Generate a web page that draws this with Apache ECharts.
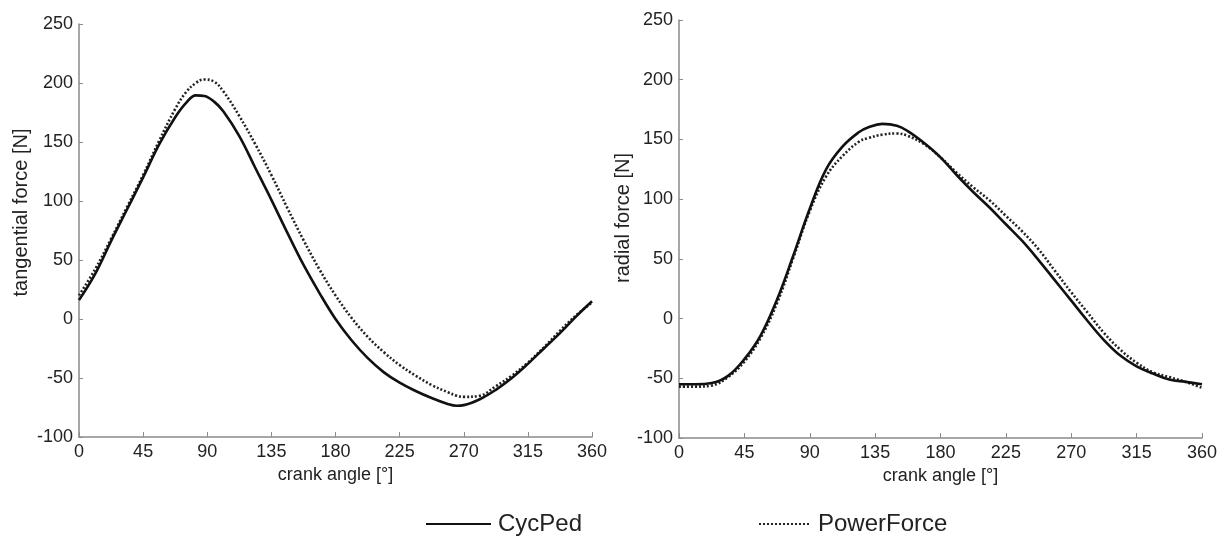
<!DOCTYPE html>
<html>
<head>
<meta charset="utf-8">
<script src="https://cdn.jsdelivr.net/npm/echarts@6/dist/echarts.min.js"></script>
<style>
html,body{margin:0;padding:0;background:#fff;}
#chart{width:1227px;height:539px;}
</style>
</head>
<body>
<div id="chart"></div>
<script>
// crank angle samples [°] (tangential plot)
const tangAngles = [0,11.25,22.5,33.75,45,56.25,67.5,75,82,88,95,101.25,112.5,123.75,135,146.25,157.5,168.75,180,191.25,202.5,213.75,225,236.25,247.5,258.75,265,270,281.25,292.5,303.75,315,326.25,337.5,348.75,360];
// tangential force [N]
const tangCycPed =     [16,38,66,93,120,148,171,183,189.5,189,184,176,155,128,101,73,46,22,0,-18,-33,-45,-54,-61,-67,-72,-73.5,-73,-68,-60,-50,-38,-25,-12,2,15];
const tangPowerForce = [20,42,68,95,122,151,178,192,200,203,201,193,172,148,122,94,67,42,20,1,-15,-28,-39,-48,-56,-62,-65,-66,-65,-57,-48,-37,-24,-10,3,14];
// crank angle samples [°] (radial plot)
const radAngles = [0,11.25,22.5,33.75,45,56.25,67.5,78.75,90,101.25,112.5,123.75,130,140,150,157.5,168.75,180,191.25,202.5,213.75,225,236.25,247.5,258.75,270,281.25,292.5,303.75,315,326.25,337.5,348.75,360];
// radial force [N]
const radCycPed =      [-55,-55,-54,-48,-34,-14,16,53,92,125,144,156,160,163,161.5,157,147,135,120,106,93,79,65,49,32,15,-2,-18,-31,-40,-46,-51,-53,-55];
const radPowerForce =  [-57,-57,-56,-49,-36,-16,13,51,90,119,136,148,151,154,155,153,146,135,122,110,99,86,73,58,40,22,5,-12,-26,-37,-45,-49,-53,-58];
const seriesNames = ['CycPed','PowerForce'];
const xName = 'crank angle [°]';
const yNames = ['tangential force [N]','radial force [N]'];

const pair = (xs, ys) => xs.map((x, i) => [x, ys[i]]);
const font = "'Liberation Sans',Arial,sans-serif";
const axisCol = '#8a8a8a';
const txtCol = '#222';

function xAxis(gi){
  return {
    type:'value', gridIndex:gi, min:0, max:360, interval:45,
    name:xName, nameLocation:'middle', nameGap:12,
    nameTextStyle:{fontFamily:font, fontSize:18, color:txtCol},
    axisLine:{onZero:false, lineStyle:{color:axisCol, width:1.5}},
    axisTick:{inside:true, length:5, lineStyle:{color:axisCol}},
    axisLabel:{fontFamily:font, fontSize:18, color:txtCol, margin:6},
    splitLine:{show:false}
  };
}
function yAxis(gi, gap, pad){
  return {
    type:'value', gridIndex:gi, min:-100, max:250, interval:50,
    name:yNames[gi], nameLocation:'middle', nameGap:gap,
    nameTextStyle:{fontFamily:font, fontSize:20, color:txtCol, padding:[0,0,0,pad]},
    axisLine:{show:true, onZero:false, lineStyle:{color:axisCol, width:1.5}},
    axisTick:{show:true, inside:true, length:4, lineStyle:{color:axisCol}},
    axisLabel:{fontFamily:font, fontSize:18, color:txtCol, margin:6},
    splitLine:{show:false}
  };
}
const solid = {color:'#111', width:2.6, type:'solid'};
const dotted = {color:'#222', width:2.6, type:[2,2]};
function line(name, gi, xs, ys, style){
  return {name, type:'line', xAxisIndex:gi, yAxisIndex:gi, data:pair(xs, ys),
    smooth:0.4, showSymbol:false, symbol:'none', lineStyle:style, itemStyle:{color:style.color}, z: style.type==='solid'?3:2};
}
function legend(name, left, w){
  return {data:[name], left, top:507, itemWidth:w, itemHeight:14, itemGap:0,
    itemStyle:{opacity:0},
    textStyle:{fontFamily:font, fontSize:24, color:txtCol, padding:[0,0,0,2]}};
}

const chart = echarts.init(document.getElementById('chart'), null, {renderer:'canvas'});
chart.setOption({
  animation:false,
  backgroundColor:'#fff',
  grid:[
    {left:79, top:24, width:513, height:413},
    {left:679, top:20, width:523, height:418}
  ],
  xAxis:[xAxis(0), xAxis(1)],
  yAxis:[yAxis(0,48,36), yAxis(1,44,22)],
  legend:[legend(seriesNames[0],420,65), legend(seriesNames[1],753,52)],
  series:[
    line(seriesNames[0],0,tangAngles,tangCycPed,solid),
    line(seriesNames[1],0,tangAngles,tangPowerForce,dotted),
    line(seriesNames[0],1,radAngles,radCycPed,solid),
    line(seriesNames[1],1,radAngles,radPowerForce,dotted)
  ]
});
</script>
</body>
</html>
